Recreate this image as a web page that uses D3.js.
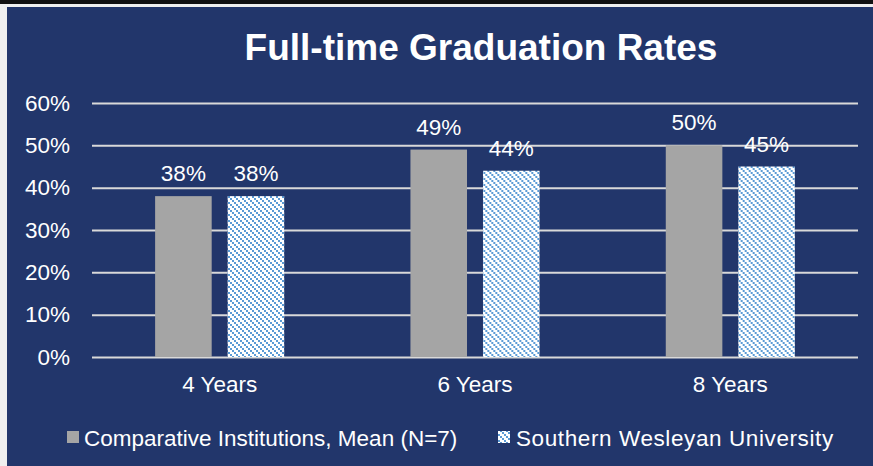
<!DOCTYPE html>
<html>
<head>
<meta charset="utf-8">
<script src="https://cdn.jsdelivr.net/npm/d3@7"></script>
<style>
  body { margin: 0; background: #efefef; }
  svg { display: block; font-family: "Liberation Sans", Arial, sans-serif; }
</style>
</head>
<body>
<script>
const w = 873
const h = 466
const categories = ["4 Years", "6 Years", "8 Years"]
const seriesNames = ["Comparative Institutions, Mean (N=7)", "Southern Wesleyan University"]
const comparative = [38, 49, 50]
const swu = [38, 44, 45]
const yTicks = [0, 10, 20, 30, 40, 50, 60]

const navy = "#22366b"
const grey = "#a5a5a5"
const hatchBlue = "#5b9bd5"
const fs = 22.5

const svg = d3.select("body").append("svg").attr("width", w).attr("height", h)

// frame
svg.append("rect").attr("x", 0).attr("y", 0).attr("width", w).attr("height", h).attr("fill", "#efefef")
svg.append("rect").attr("x", 0).attr("y", 0).attr("width", w).attr("height", 4).attr("fill", "#111")
svg.append("rect").attr("x", 7).attr("y", 7).attr("width", w - 7).attr("height", h - 7).attr("fill", navy)

// hatch pattern
const defs = svg.append("defs")
const pat = defs.append("pattern").attr("id", "hatch").attr("patternUnits", "userSpaceOnUse").attr("width", 6).attr("height", 6)
pat.append("rect").attr("width", 6).attr("height", 6).attr("fill", "#fff")
;[0, 2, 4].forEach(o => pat.append("rect").attr("x", o).attr("y", o).attr("width", 2).attr("height", 2).attr("fill", hatchBlue))

const pLeft = 92, pRight = 858, pTop = 103, pBottom = 357

const x = d3.scaleBand().domain(categories).range([pLeft, pRight])
const x1 = d3.scaleBand().domain([0, 1]).range([0, x.bandwidth()]).paddingInner(0.22).paddingOuter(0.87)
const y = d3.scaleLinear().domain([0, 60]).range([pBottom, pTop])

svg.append("text").attr("x", 481).attr("y", 60).attr("text-anchor", "middle").attr("fill", "#fff")
  .attr("font-size", 37).attr("font-weight", "bold").text("Full-time Graduation Rates")

// grid + y axis
const yAxis = svg.append("g").attr("transform", "translate(" + pLeft + ",0)")
  .call(d3.axisLeft(y).tickValues(yTicks).tickSize(-(pRight - pLeft)).tickPadding(22).tickFormat(d => d + "%"))
yAxis.select(".domain").remove()
yAxis.selectAll(".tick line").attr("stroke", "#d9d9d9").attr("stroke-width", 2)
yAxis.selectAll(".tick text").attr("fill", "#fff").attr("font-size", fs).attr("font-family", "Liberation Sans, Arial, sans-serif")

// x axis labels
const xAxis = svg.append("g").attr("transform", "translate(0," + pBottom + ")")
  .call(d3.axisBottom(x).tickSize(0).tickPadding(19))
xAxis.select(".domain").remove()
xAxis.selectAll(".tick text").attr("fill", "#fff").attr("font-size", fs).attr("font-family", "Liberation Sans, Arial, sans-serif")

const rows = categories.map((c, i) => ({ cat: c, vals: [comparative[i], swu[i]] }))
const groups = svg.selectAll("g.grp").data(rows).enter().append("g").attr("class", "grp")
  .attr("transform", d => "translate(" + x(d.cat) + ",0)")

groups.selectAll("rect").data(d => d.vals).enter().append("rect")
  .attr("x", (d, i) => x1(i)).attr("y", d => y(d)).attr("width", x1.bandwidth()).attr("height", d => y(0) - y(d))
  .attr("fill", (d, i) => i === 0 ? grey : "url(#hatch)")

groups.selectAll("text").data(d => d.vals).enter().append("text")
  .attr("x", (d, i) => x1(i) + x1.bandwidth() / 2).attr("y", d => y(d) - 15)
  .attr("text-anchor", "middle").attr("fill", "#fff").attr("font-size", fs).text(d => d + "%")

// legend
const lg = svg.append("g").attr("transform", "translate(0,446)")
lg.append("rect").attr("x", 67).attr("y", -15).attr("width", 12).attr("height", 12).attr("fill", grey)
lg.append("text").attr("x", 84).attr("y", 0).attr("fill", "#fff").attr("font-size", fs).text(seriesNames[0])
lg.append("rect").attr("x", 498).attr("y", -15).attr("width", 12).attr("height", 12).attr("fill", "url(#hatch)")
lg.append("text").attr("x", 516).attr("y", 0).attr("fill", "#fff").attr("font-size", fs).attr("letter-spacing", 0.6).text(seriesNames[1])
</script>
</body>
</html>
